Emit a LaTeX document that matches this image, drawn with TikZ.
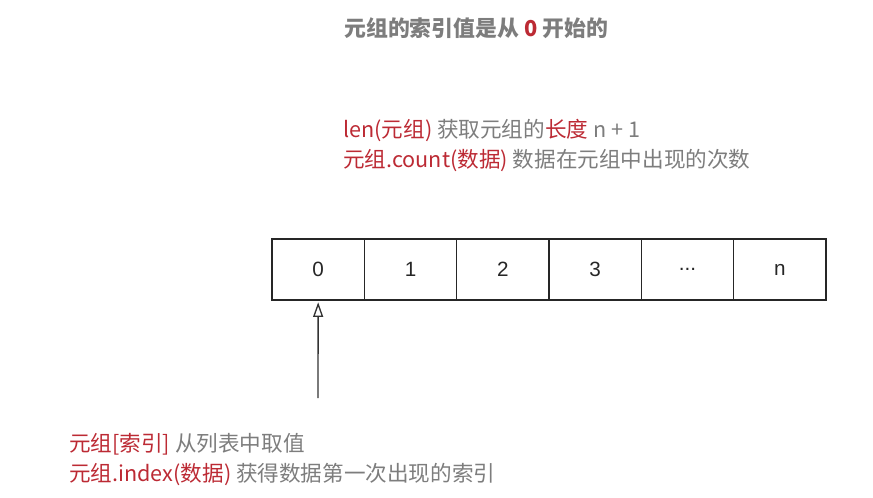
\documentclass[tikz,border=0pt]{standalone}
\usepackage{fontspec}
\setmainfont{Noto Sans CJK SC}
\newfontfamily\cellfont{Liberation Sans}
\usetikzlibrary{arrows.meta,positioning}
\definecolor{idxred}{RGB}{188,42,52}
\definecolor{idxgray}{RGB}{125,125,125}
\newcommand{\redtxt}[1]{\textcolor{idxred}{#1}}
\newcommand{\celldots}{...}
\begin{document}
\begin{tikzpicture}[x=0.75pt, y=-0.75pt,
    every node/.style={font=\fontsize{16.2}{19}\selectfont},
    txt/.style={anchor=west, inner sep=0pt, text=idxgray},
    cell/.style={draw=black!85, line width=1pt,
      minimum width=69.25pt, minimum height=45.75pt,
      inner sep=0pt, text=black!85, font=\fontsize{15.5}{18}\cellfont},
    ]
  \useasboundingbox (0,0) rectangle (873,497);
  % title
  \node[txt, font=\fontsize{16.4}{19}\selectfont\bfseries] (title) at (344,28)
    {元组的索引值是从 \redtxt{0} 开始的};
  % len / count
  \node[txt] (len) at (343,130) {\redtxt{len(元组)} 获取元组的\redtxt{长度} n + 1};
  \node[txt] (count) at (343,160) {\redtxt{元组.count(数据)} 数据在元组中出现的次数};
  % the tuple
  \foreach \lbl [count=\i from 0] in {0,1,2,3,\celldots,n}
    \node[cell] (c\i) at (318.17+92.33*\i, 269.5) {\lbl};
  \coordinate (tail) at (318,398);
  \draw[black!80, line width=1pt, -{Triangle[open, length=11pt, width=7.5pt]},
    shorten >=1.2pt] (tail) -- (c0.south);
  % index / find
  \node[txt] (get) at (69,444) {\redtxt{元组[索引]} 从列表中取值};
  \node[txt] (index) at (69,474) {\redtxt{元组.index(数据)} 获得数据第一次出现的索引};
\end{tikzpicture}
\end{document}
